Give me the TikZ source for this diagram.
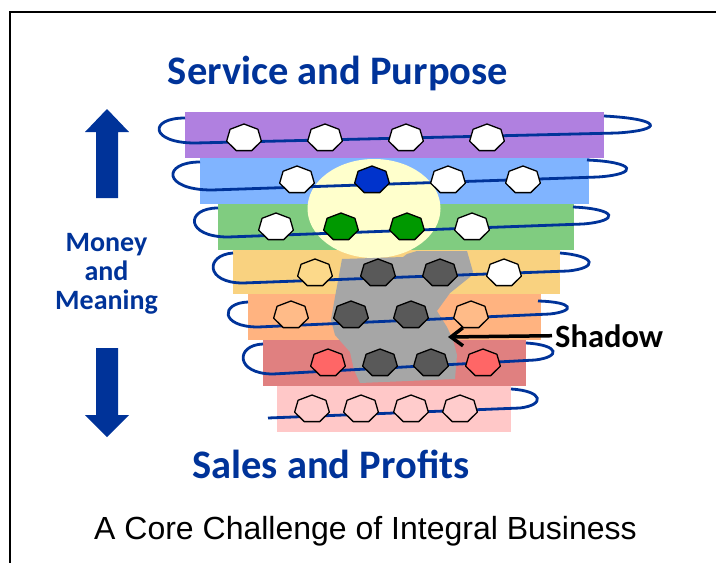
\documentclass[tikz,border=0pt]{standalone}
\usepackage{fontspec}
\setmainfont{Liberation Sans}
\newfontfamily\headfont{Carlito}
\usetikzlibrary{arrows.meta}

\definecolor{navy}{HTML}{003399}
\definecolor{bandpurple}{HTML}{B080E0}
\definecolor{bandblue}{HTML}{80B4FF}
\definecolor{bandgreen}{HTML}{80CC80}
\definecolor{bandyellow}{HTML}{F9D280}
\definecolor{bandorange}{HTML}{FFB380}
\definecolor{bandred}{HTML}{E08080}
\definecolor{bandpink}{HTML}{FFC8C8}
\definecolor{glow}{HTML}{FFFFCC}
\definecolor{shadowgray}{HTML}{A6A6A6}
\definecolor{darkcell}{HTML}{595959}
\definecolor{cellblue}{HTML}{0033CC}
\definecolor{cellgreen}{HTML}{009900}
\definecolor{cellyellow}{HTML}{FCD98A}
\definecolor{cellorange}{HTML}{FFBB88}
\definecolor{cellred}{HTML}{FF6666}
\definecolor{cellpink}{HTML}{FFCCCC}

\begin{document}
\begin{tikzpicture}[x=1pt,y=-1pt,
  coil/.style={draw=navy,line width=2.8pt},
  heptedge/.style={draw=black,line width=1.3pt,line join=round},
  pics/hept/.style={code={
    \draw[heptedge,fill=#1] (270:17.8 and 14)
      \foreach \k in {1,...,6}{ -- (270+\k*51.4286:17.8 and 14)} -- cycle;}},
  headline/.style={font=\headfont\bfseries\fontsize{40.5}{48}\selectfont,text=navy,inner sep=0pt},
  sidelabel/.style={font=\headfont\bfseries\fontsize{28}{29}\selectfont,text=navy,align=center,inner sep=0pt},
  pointer/.style={draw=black,line width=3.5pt,-{Straight Barb[length=12pt,width=18pt]}},
  bigarrow/.style={fill=navy}
]
\useasboundingbox (0,0) rectangle (716,563);

% frame
\draw[line width=2pt] (10,563) -- (10,12) -- (716,12);

% stacked bands
\fill[bandpurple] (185,112) rectangle (604,158);
\fill[bandblue]   (200,158) rectangle (589,204);
\fill[bandgreen]  (218,204) rectangle (574,250);
\fill[bandyellow] (233,250) rectangle (560,294);
\fill[bandorange] (248,294) rectangle (541,340);
\fill[bandred]    (263,340) rectangle (526,386);
\fill[bandpink]   (277,386) rectangle (511,432);

% light spot and shadow region
\fill[glow] (374,208.5) ellipse [x radius=66.5, y radius=49.5];
\fill[shadowgray] (342,259) -- (403,257) -- (407,254) -- (417,251) -- (467,251)
  -- (473,272) -- (470,277) -- (450,293) -- (437,311) -- (447,327)
  -- (453,340) -- (457,355) -- (455,379) -- (360,383) -- (354,370)
  -- (350,352) -- (335,335) -- (331,320) -- (335,297) -- cycle;

% coil winding through the bands
\path[coil] (185,118) .. controls (148,118) and (150,143) .. (195,143) -- (617,133)
  .. controls (665,130) and (662,119) .. (604,116);
\path[coil] (200,162) .. controls (162,162) and (162,190) .. (212,190) -- (598,177)
  .. controls (640,174) and (636,162) .. (587,160);
\path[coil] (218,208) .. controls (185,208) and (185,237) .. (228,237) -- (583,224)
  .. controls (620,221) and (618,209) .. (573,207);
\path[coil] (233,253) .. controls (205,255) and (205,283) .. (243,283) -- (568,271)
  .. controls (598,268) and (597,256) .. (560,253);
\path[coil] (248,302) .. controls (220,303) and (220,327) .. (258,327) -- (550,314)
  .. controls (576,311) and (574,302) .. (538,301);
\path[coil] (263,344) .. controls (235,345) and (235,374) .. (273,374) -- (535,360)
  .. controls (561,357) and (560,345) .. (526,343);
\path[coil] (268,418) -- (520,408) .. controls (545,405) and (544,391) .. (511,389);

% cells on each band
\pic at (244,138) {hept=white};
\pic at (325,138) {hept=white};
\pic at (406,138) {hept=white};
\pic at (487,138) {hept=white};

\pic at (297,180) {hept=white};
\pic at (372,180) {hept=cellblue};
\pic at (448,180) {hept=white};
\pic at (523,180) {hept=white};

\pic at (276,227) {hept=white};
\pic at (341,227) {hept=cellgreen};
\pic at (407,227) {hept=cellgreen};
\pic at (472,227) {hept=white};

\pic at (315,273) {hept=cellyellow};
\pic at (378,273) {hept=darkcell};
\pic at (440,273) {hept=darkcell};
\pic at (504,273) {hept=white};

\pic at (291,315) {hept=cellorange};
\pic at (351,315) {hept=darkcell};
\pic at (411,315) {hept=darkcell};
\pic at (471,315) {hept=cellorange};

\pic at (328,363) {hept=cellred};
\pic at (380,363) {hept=darkcell};
\pic at (431,363) {hept=darkcell};
\pic at (483,363) {hept=cellred};

\pic at (312,409) {hept=cellpink};
\pic at (361,409) {hept=cellpink};
\pic at (411,409) {hept=cellpink};
\pic at (460,409) {hept=cellpink};

% vertical arrows
\fill[bigarrow] (107,109) -- (129,132) -- (118,132) -- (118,198) -- (96,198)
  -- (96,132) -- (85,132) -- cycle;
\fill[bigarrow] (107,437) -- (129,415) -- (118,415) -- (118,348) -- (96,348)
  -- (96,415) -- (85,415) -- cycle;

% labels
\node[headline,anchor=base] (top) at (338,84) {Service and Purpose};
\node[headline,anchor=base] (bottom) at (331,478) {Sales and Profits};
\node[sidelabel] (axis) at (106.5,273.5) {Money\\and\\Meaning};
\node[font=\headfont\bfseries\fontsize{32.5}{36}\selectfont,anchor=base west,inner sep=0pt] (shadowlbl) at (555,347) {Shadow};
\coordinate (shadowtip) at (448,337);
\draw[pointer] ([xshift=-3pt]shadowlbl.west) -- (shadowtip);
\node[font=\fontsize{32}{38}\selectfont,anchor=base] (caption) at (365.5,539) {A Core Challenge of Integral Business};
\end{tikzpicture}
\end{document}
